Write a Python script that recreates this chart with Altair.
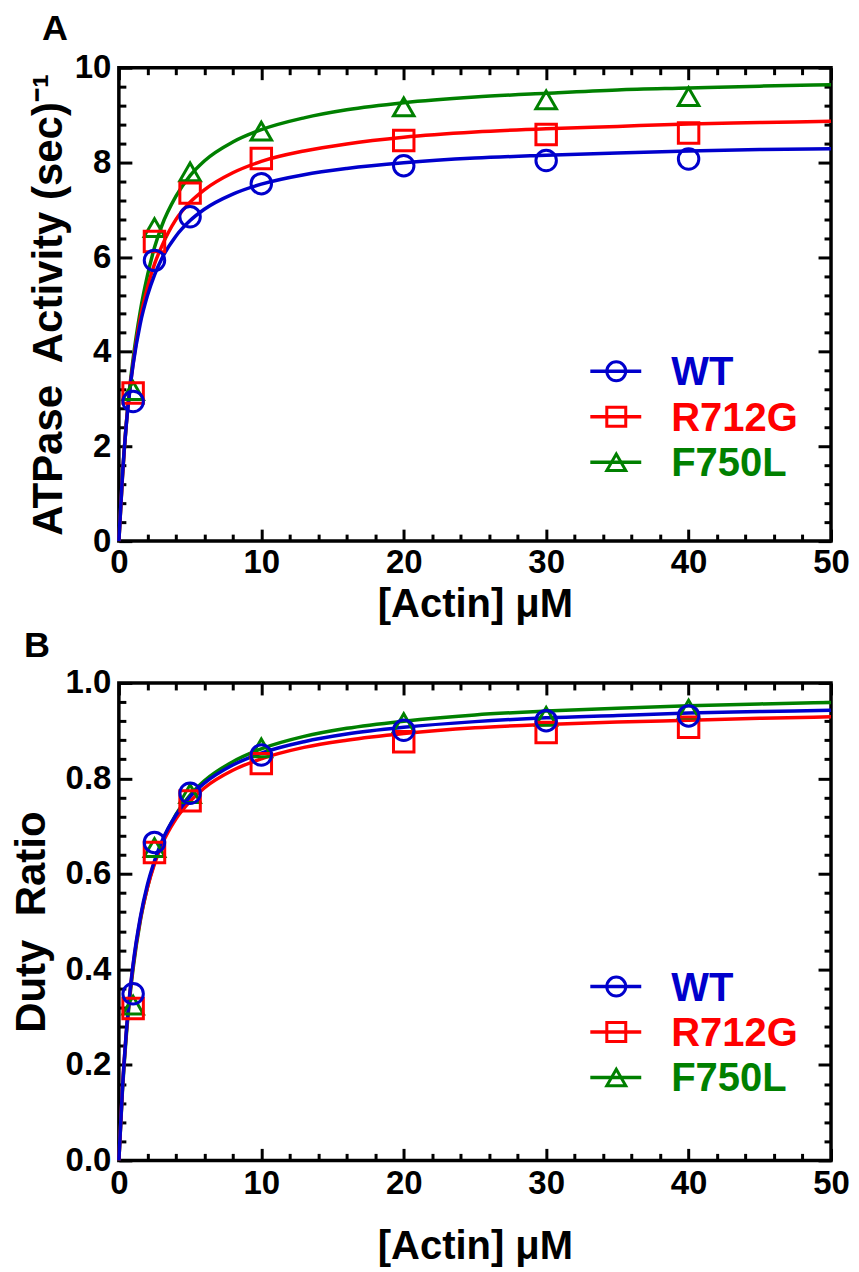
import altair as alt
import pandas as pd

FONT = "Liberation Sans"

series = ["WT", "R712G", "F750L"]
series_colors = ["#0000CC", "#FF0000", "#008000"]
series_shapes = ["circle", "square", "triangle-up"]
draw_order = ["F750L", "R712G", "WT"]

# measured points
actin_um = [1, 2.5, 5, 10, 20, 30, 40]
atpase_wt = [2.95, 5.93, 6.85, 7.55, 7.93, 8.04, 8.07]
atpase_r712g = [3.13, 6.33, 7.35, 8.08, 8.46, 8.59, 8.62]
atpase_f750l = [3.18, 6.62, 7.80, 8.66, 9.17, 9.32, 9.39]

duty_wt = [0.349, 0.666, 0.769, 0.849, 0.901, 0.921, 0.931]
duty_r712g = [0.318, 0.645, 0.753, 0.831, 0.877, 0.896, 0.907]
duty_f750l = [0.325, 0.655, 0.768, 0.864, 0.917, 0.930, 0.945]

# fitted curves
fit_actin = [0, 0.25, 0.5, 0.75, 1, 1.5, 2, 2.5, 3, 4, 5, 6, 8, 10, 13, 16, 20, 25, 30, 35, 40, 45, 50]
fit_atpase_wt = [0, 1.39, 2.39, 3.14, 3.73, 4.59, 5.18, 5.62, 5.96, 6.44, 6.77, 7.01, 7.33, 7.54, 7.74, 7.87, 7.99, 8.09, 8.15, 8.20, 8.24, 8.27, 8.29]
fit_atpase_r712g = [0, 1.35, 2.40, 3.15, 3.75, 4.70, 5.35, 5.85, 6.22, 6.79, 7.16, 7.42, 7.78, 8.02, 8.24, 8.39, 8.53, 8.64, 8.71, 8.76, 8.81, 8.84, 8.87]
fit_atpase_f750l = [0, 1.35, 2.40, 3.20, 3.85, 4.85, 5.60, 6.20, 6.65, 7.28, 7.72, 8.03, 8.43, 8.69, 8.94, 9.11, 9.26, 9.38, 9.46, 9.53, 9.57, 9.61, 9.64]

fit_duty_wt = [0, 0.150, 0.261, 0.345, 0.411, 0.508, 0.577, 0.627, 0.667, 0.723, 0.762, 0.790, 0.828, 0.853, 0.877, 0.893, 0.907, 0.919, 0.927, 0.932, 0.937, 0.940, 0.943]
fit_duty_r712g = [0, 0.150, 0.259, 0.342, 0.408, 0.504, 0.571, 0.621, 0.660, 0.715, 0.752, 0.780, 0.817, 0.841, 0.865, 0.880, 0.894, 0.906, 0.913, 0.918, 0.922, 0.926, 0.929]
fit_duty_f750l = [0, 0.145, 0.253, 0.336, 0.402, 0.501, 0.571, 0.624, 0.664, 0.724, 0.765, 0.795, 0.835, 0.862, 0.888, 0.905, 0.920, 0.933, 0.941, 0.947, 0.952, 0.956, 0.959]

# axis ticks
x_major = [0, 10, 20, 30, 40, 50]
x_all = [0, 2, 4, 6, 8, 10, 12, 14, 16, 18, 20, 22, 24, 26, 28, 30, 32, 34, 36, 38, 40, 42, 44, 46, 48, 50]
ya_major = [0, 2, 4, 6, 8, 10]
ya_all = [0, 0.4, 0.8, 1.2, 1.6, 2, 2.4, 2.8, 3.2, 3.6, 4, 4.4, 4.8, 5.2, 5.6, 6, 6.4, 6.8, 7.2, 7.6, 8, 8.4, 8.8, 9.2, 9.6, 10]
yb_major = [0, 0.2, 0.4, 0.6, 0.8, 1.0]
yb_all = [0, 0.04, 0.08, 0.12, 0.16, 0.2, 0.24, 0.28, 0.32, 0.36, 0.4, 0.44, 0.48, 0.52, 0.56, 0.6,
          0.64, 0.68, 0.72, 0.76, 0.8, 0.84, 0.88, 0.92, 0.96, 1.0]


def long_df(xs, cols):
    rows = []
    for name in draw_order:
        for x, y in zip(xs, cols[name]):
            rows.append({"x": x, "y": y, "series": name})
    return pd.DataFrame(rows)


atp_pts = long_df(actin_um, {"WT": atpase_wt, "R712G": atpase_r712g, "F750L": atpase_f750l})
atp_fit = long_df(fit_actin, {"WT": fit_atpase_wt, "R712G": fit_atpase_r712g, "F750L": fit_atpase_f750l})
duty_pts = long_df(actin_um, {"WT": duty_wt, "R712G": duty_r712g, "F750L": duty_f750l})
duty_fit = long_df(fit_actin, {"WT": fit_duty_wt, "R712G": fit_duty_r712g, "F750L": fit_duty_f750l})
legend_df = pd.DataFrame({"series": draw_order})

W = 713


def panel(pts, fit, ymax, y_major, y_all, y_fmt, y_title, major_test, H, label, label_dx,
          label_offset, ytitle_pad, xlabel_pad, xtitle_pad):
    xs = alt.Scale(domain=[0, 50], nice=False, zero=False)
    ys = alt.Scale(domain=[0, ymax], nice=False)
    color = alt.Color("series:N", scale=alt.Scale(domain=series, range=series_colors), legend=None)
    shape = alt.Shape("series:N", scale=alt.Scale(domain=series, range=series_shapes), legend=None)

    tsx = {"condition": {"test": "datum.value % 10 === 0", "value": 12}, "value": 7}
    tsy = {"condition": {"test": major_test, "value": 13}, "value": 7}
    tick_common = dict(labels=False, domain=False, ticks=True, title=None,
                       tickColor="black", tickWidth=3, grid=False)

    lines = alt.Chart(fit).mark_line(strokeWidth=3.5, interpolate="monotone").encode(
        x=alt.X("x:Q", scale=xs, axis=alt.Axis(orient="bottom", values=x_major, format="d",
                                               ticks=False, domain=False, grid=False,
                                               labelFlush=False, labelOverlap=False,
                                               title="[Actin] \u03bcM", labelPadding=xlabel_pad,
                                               titlePadding=xtitle_pad, titleFontSize=40)),
        y=alt.Y("y:Q", scale=ys, axis=alt.Axis(orient="left", values=y_major, format=y_fmt,
                                               ticks=False, domain=False, grid=False,
                                               labelFlush=False, labelOverlap=False,
                                               title=y_title, labelPadding=8,
                                               titlePadding=ytitle_pad, titleFontSize=42)),
        color=color,
    )
    points = alt.Chart(pts).mark_point(filled=False, size=420, strokeWidth=3, opacity=1).encode(
        x=alt.X("x:Q", scale=xs, axis=alt.Axis(orient="top", offset=-H, values=x_all, tickSize=tsx, **tick_common)),
        y=alt.Y("y:Q", scale=ys, axis=alt.Axis(orient="right", offset=-W, values=y_all, tickSize=tsy, **tick_common)),
        color=color,
        shape=shape,
    )
    ghost = alt.Chart(pts).mark_point(opacity=0).encode(
        x=alt.X("x:Q", scale=xs, axis=alt.Axis(orient="bottom", offset=-H, values=x_all, tickSize=tsx, **tick_common)),
        y=alt.Y("y:Q", scale=ys, axis=alt.Axis(orient="left", offset=-W, values=y_all, tickSize=tsy, **tick_common)),
    )

    ly = alt.Y("series:N", scale=alt.Scale(type="point", domain=series, range=[304, 395], padding=0), axis=None)
    leg_rule = alt.Chart(legend_df).mark_rule(strokeWidth=3.5).encode(
        x=alt.value(472), x2=alt.value(523), y=ly, color=color)
    leg_pt = alt.Chart(legend_df).mark_point(filled=False, size=360, strokeWidth=3, opacity=1).encode(
        x=alt.value(498), y=ly, color=color, shape=shape)
    leg_txt = alt.Chart(legend_df).mark_text(align="left", baseline="middle", font=FONT,
                                             fontSize=40, fontWeight="bold", dy=2).encode(
        x=alt.value(553), y=ly, text="series:N", color=color)

    return alt.layer(lines, points, ghost, leg_rule, leg_pt, leg_txt).resolve_scale(
        y="independent").resolve_axis(x="independent", y="independent").properties(
        width=W, height=H,
        title=alt.TitleParams(text=label, anchor="start", frame="group", dx=label_dx,
                              fontSize=36, font=FONT, fontWeight="bold", color="black",
                              offset=label_offset),
    )


pa = panel(atp_pts, atp_fit, 10, ya_major, ya_all, "d",
           "ATPase\u00a0 Activity (sec)\u207b\u00b9", "datum.value % 2 === 0",
           474, "A", -77, 4, 4, 5, 5)
pb = panel(duty_pts, duty_fit, 1.0, yb_major, yb_all, ".1f",
           "Duty\u00a0 Ratio", "abs(datum.value * 5 - round(datum.value * 5)) < 0.000001",
           478, "B", -95, 2, 12, 7, 26)

chart = alt.vconcat(pa, pb, spacing=0).properties(
    padding={"left": 0, "top": 0, "right": -1, "bottom": 0}
).configure_view(stroke="black", strokeWidth=3.5).configure_axis(
    labelFont=FONT, labelFontSize=33, labelFontWeight="bold", labelColor="black",
    titleFont=FONT, titleFontWeight="bold", titleColor="black",
)

chart.save("out.html", embed_options={"renderer": "svg", "actions": False})
